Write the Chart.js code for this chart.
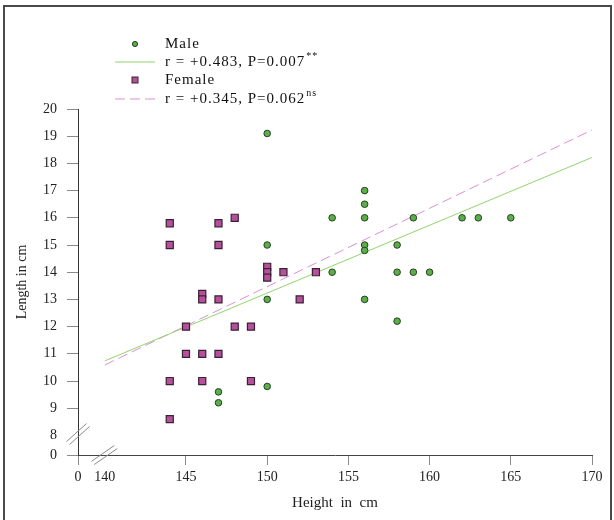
<!DOCTYPE html>
<html>
<head>
<meta charset="utf-8">
<script src="https://cdn.jsdelivr.net/npm/chart.js@4.4.1/dist/chart.umd.min.js"></script>
<style>
  html, body { margin: 0; padding: 0; background: #fff; }
  #wrap { position: relative; width: 614px; height: 520px; overflow: hidden; }
  #frame { position: absolute; left: 3px; top: 5px; width: 605px; height: 530px; border: 2px solid #4a4a4a; border-bottom: none; }
  canvas { position: absolute; left: 0; top: 0; }
</style>
</head>
<body>
<div id="wrap">
  <div id="frame"></div>
  <canvas id="chart" width="614" height="520"></canvas>
</div>
<script>
// data
const maleHeight = [147, 147, 150, 150, 150, 150, 154, 154, 156, 156, 156, 156, 156, 156, 158, 158, 158, 159, 159, 160, 162, 163, 165];
const maleLength = [9.6, 9.2, 19.1, 15, 13, 9.8, 16, 14, 17, 16.5, 16, 15, 14.8, 13, 15, 14, 12.2, 16, 14, 14, 16, 16, 16];

const femaleHeight = [144, 144, 144, 144, 145, 145, 146, 146, 146, 146, 147, 147, 147, 147, 148, 148, 149, 149, 150, 150, 150, 151, 152, 153];
const femaleLength = [15.8, 15, 10, 8.6, 12, 11, 13.2, 13, 11, 10, 15.8, 15, 13, 11, 16, 12, 12, 10, 14.2, 14, 13.8, 14, 13, 14];

// regression line end points
const fitX = [140, 170];
const maleFit = [10.74, 18.22];
const femaleFit = [10.59, 19.23];

// axes (broken at the origin)
const xTicks = [140, 145, 150, 155, 160, 165, 170];
const yTicks = [8, 9, 10, 11, 12, 13, 14, 15, 16, 17, 18, 19, 20];
const xBreak = 138.35;
const yBreak = 7.28;

const legendLabels = ['Male', 'r = +0.483, P=0.007', 'Female', 'r = +0.345, P=0.062'];
const legendSup = ['', '**', '', 'ns'];

const serif = 'Liberation Serif';

// legend drawn like the original: marker rows and line rows
const legendPlugin = {
  id: 'legendBox',
  afterDraw(chart) {
    const ctx = chart.ctx;
    const ds = chart.data.datasets;
    const rows = [44, 62, 80, 99];
    ctx.save();
    // Male marker
    ctx.fillStyle = ds[0].backgroundColor;
    ctx.strokeStyle = ds[0].borderColor;
    ctx.lineWidth = 1;
    ctx.beginPath();
    ctx.arc(135, rows[0], 2.6, 0, Math.PI * 2);
    ctx.fill();
    ctx.stroke();
    // male fit line
    ctx.strokeStyle = ds[2].borderColor;
    ctx.beginPath();
    ctx.moveTo(115, rows[1]);
    ctx.lineTo(155, rows[1]);
    ctx.stroke();
    // Female marker
    ctx.fillStyle = ds[1].backgroundColor;
    ctx.strokeStyle = ds[1].borderColor;
    ctx.fillRect(132, rows[2] - 3, 6, 6);
    ctx.strokeRect(132, rows[2] - 3, 6, 6);
    // female fit line
    ctx.strokeStyle = ds[3].borderColor;
    ctx.setLineDash(ds[3].borderDash);
    ctx.beginPath();
    ctx.moveTo(115, rows[3]);
    ctx.lineTo(155, rows[3]);
    ctx.stroke();
    ctx.setLineDash([]);

    ctx.fillStyle = '#111';
    ctx.textBaseline = 'middle';
    ctx.textAlign = 'left';
    ctx.letterSpacing = '1px';
    legendLabels.forEach((t, i) => {
      ctx.font = '15px "' + serif + '"';
      ctx.fillText(t, 165, rows[i]);
      if (legendSup[i]) {
        const w = ctx.measureText(t).width;
        ctx.font = '10px "' + serif + '"';
        ctx.fillText(legendSup[i], 165 + w + 1, rows[i] - 6);
      }
    });
    ctx.restore();

    // axis break marks
    const xs = chart.scales.x, ys = chart.scales.y;
    const bx = xs.getPixelForValue(140), by = xs.bottom === undefined ? 0 : ys.getPixelForValue(yBreak);
    const cy = ys.getPixelForValue(8.05), cx = xs.left;
    ctx.save();
    ctx.strokeStyle = '#8a8a8a';
    ctx.lineWidth = 1;
    [-1.5, 1.5].forEach(o => {
      ctx.beginPath();
      ctx.moveTo(bx - 12 + o, by + 8 + o);
      ctx.lineTo(bx + 11 + o, by - 8 + o);
      ctx.stroke();
      ctx.beginPath();
      ctx.moveTo(cx - 10 + o, cy + 9 + o);
      ctx.lineTo(cx + 10 + o, cy - 9 + o);
      ctx.stroke();
    });
    ctx.restore();
  }
};

new Chart(document.getElementById('chart'), {
  type: 'scatter',
  data: {
    datasets: [
      {
        label: 'Male',
        data: maleHeight.map((x, i) => ({ x: x, y: maleLength[i] })),
        pointStyle: 'circle',
        pointRadius: 3.3,
        backgroundColor: '#58b046',
        borderColor: '#2b3d28',
        borderWidth: 1
      },
      {
        label: 'Female',
        data: femaleHeight.map((x, i) => ({ x: x, y: femaleLength[i] })),
        pointStyle: 'rect',
        pointRadius: 5,
        backgroundColor: '#b6509c',
        borderColor: '#3a2034',
        borderWidth: 1.2
      },
      {
        type: 'line',
        label: legendLabels[1],
        data: fitX.map((x, i) => ({ x: x, y: maleFit[i] })),
        borderColor: '#92d46e',
        borderWidth: 1,
        pointRadius: 0,
        fill: false
      },
      {
        type: 'line',
        label: legendLabels[3],
        data: fitX.map((x, i) => ({ x: x, y: femaleFit[i] })),
        borderColor: '#dc8fd6',
        borderWidth: 1,
        borderDash: [10, 5],
        pointRadius: 0,
        fill: false
      }
    ]
  },
  options: {
    responsive: false,
    animation: false,
    layout: { padding: { left: 0, top: 109, right: 22, bottom: 0 } },
    plugins: { legend: { display: false }, tooltip: { enabled: false } },
    scales: {
      x: {
        type: 'linear',
        min: xBreak,
        max: 170,
        afterBuildTicks: s => { s.ticks = [xBreak].concat(xTicks).map(v => ({ value: v })); },
        afterFit: s => { s.height = 65; },
        grid: {
          drawOnChartArea: false,
          tickLength: 10,
          tickColor: c => (c.tick && c.tick.value === 140) ? 'rgba(0,0,0,0)' : '#8a8a8a'
        },
        border: { color: '#444' },
        ticks: {
          padding: 4,
          color: '#222',
          autoSkip: false,
          maxRotation: 0,
          font: { family: serif, size: 14 },
          callback: v => v === xBreak ? '0' : v
        },
        title: {
          display: true,
          text: 'Height  in  cm',
          color: '#222',
          font: { family: serif, size: 15 },
          padding: { top: 8, bottom: 8 }
        }
      },
      y: {
        type: 'linear',
        min: yBreak,
        max: 20,
        afterBuildTicks: s => { s.ticks = [yBreak].concat(yTicks).map(v => ({ value: v })); },
        afterFit: s => { s.width = 78; },
        grid: {
          drawOnChartArea: false,
          tickLength: 11,
          tickColor: c => (c.tick && c.tick.value === 8) ? 'rgba(0,0,0,0)' : '#8a8a8a'
        },
        border: { color: '#333' },
        ticks: {
          padding: 10,
          color: '#222',
          autoSkip: false,
          font: { family: serif, size: 14 },
          callback: v => v === yBreak ? '0' : v
        },
        title: {
          display: true,
          text: 'Length in cm',
          color: '#222',
          font: { family: serif, size: 14 },
          padding: { top: 14, bottom: 14 }
        }
      }
    }
  },
  plugins: [legendPlugin]
});
</script>
</body>
</html>
